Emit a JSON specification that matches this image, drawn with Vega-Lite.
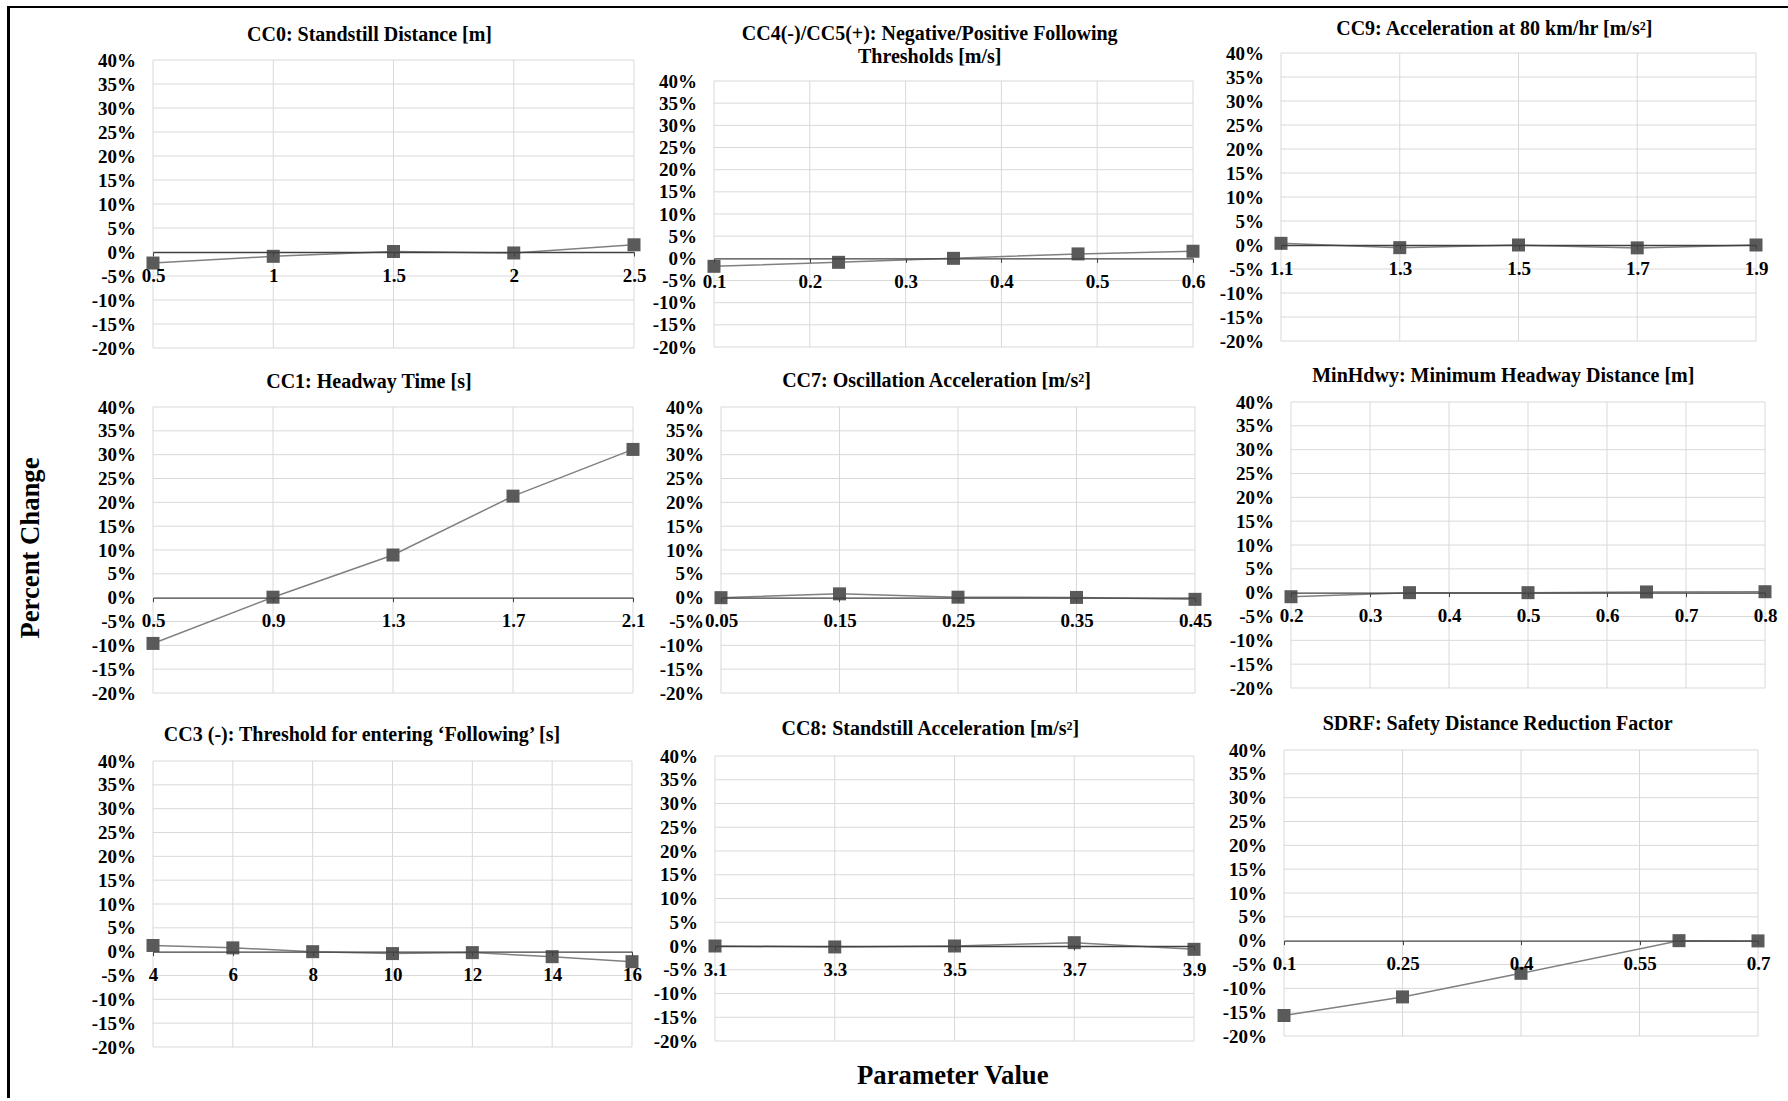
{
  "$schema": "https://vega.github.io/schema/vega-lite/v6.json",
  "padding": {"left": 7, "top": 6, "right": 0, "bottom": 0},
  "background": "#ffffff",
  "config": {
    "view": {"stroke": null},
    "font": "Liberation Serif",
    "axis": {
      "labelFont": "Liberation Serif",
      "labelFontWeight": "bold",
      "labelFontSize": 19,
      "labelColor": "#000000",
      "grid": false,
      "titleFont": "Liberation Serif",
      "titleFontWeight": "bold",
      "titleFontSize": 26.7,
      "titleColor": "#000000",
      "labelOverlap": false
    },
    "axisX": {
      "domainColor": "#404040",
      "domainWidth": 1.3,
      "tickColor": "#404040",
      "tickSize": 4,
      "labelPadding": 25,
      "labelBaseline": "alphabetic",
      "labelFlush": false,
      "labelBound": false,
      "labelAngle": 0,
      "zindex": 1
    },
    "axisY": {
      "domain": false,
      "ticks": false,
      "tickSize": 0,
      "labelPadding": 17.5
    },
    "title": {
      "font": "Liberation Serif",
      "fontSize": 20,
      "fontWeight": "bold",
      "color": "#000000",
      "anchor": "middle",
      "frame": "group",
      "baseline": "bottom"
    },
    "rule": {"color": "#d9d9d9", "strokeWidth": 1},
    "line": {"color": "#808080", "strokeWidth": 1.5},
    "square": {"size": 169, "color": "#5a5a5a", "opacity": 1}
  },
  "datasets": {
    "sens": [
      {"panel": "CC0", "x": 0.5, "y": -2.3},
      {"panel": "CC0", "x": 1, "y": -0.9},
      {"panel": "CC0", "x": 1.5, "y": 0.1},
      {"panel": "CC0", "x": 2, "y": -0.2},
      {"panel": "CC0", "x": 2.5, "y": 1.5},
      {"panel": "CC4", "x": 0.1, "y": -1.8},
      {"panel": "CC4", "x": 0.23, "y": -0.9},
      {"panel": "CC4", "x": 0.35, "y": 0},
      {"panel": "CC4", "x": 0.48, "y": 1.0},
      {"panel": "CC4", "x": 0.6, "y": 1.6},
      {"panel": "CC9", "x": 1.1, "y": 0.35},
      {"panel": "CC9", "x": 1.3, "y": -0.55},
      {"panel": "CC9", "x": 1.5, "y": 0},
      {"panel": "CC9", "x": 1.7, "y": -0.6},
      {"panel": "CC9", "x": 1.9, "y": 0},
      {"panel": "CC1", "x": 0.5, "y": -9.6},
      {"panel": "CC1", "x": 0.9, "y": 0.1},
      {"panel": "CC1", "x": 1.3, "y": 8.95},
      {"panel": "CC1", "x": 1.7, "y": 21.3},
      {"panel": "CC1", "x": 2.1, "y": 31.1},
      {"panel": "CC7", "x": 0.05, "y": 0},
      {"panel": "CC7", "x": 0.15, "y": 0.8},
      {"panel": "CC7", "x": 0.25, "y": 0.1},
      {"panel": "CC7", "x": 0.35, "y": 0.05},
      {"panel": "CC7", "x": 0.45, "y": -0.35},
      {"panel": "MinHdwy", "x": 0.2, "y": -0.85},
      {"panel": "MinHdwy", "x": 0.35, "y": 0},
      {"panel": "MinHdwy", "x": 0.5, "y": 0},
      {"panel": "MinHdwy", "x": 0.65, "y": 0.15},
      {"panel": "MinHdwy", "x": 0.8, "y": 0.2},
      {"panel": "CC3", "x": 4, "y": 1.3},
      {"panel": "CC3", "x": 6, "y": 0.8},
      {"panel": "CC3", "x": 8, "y": 0},
      {"panel": "CC3", "x": 10, "y": -0.4},
      {"panel": "CC3", "x": 12, "y": -0.2},
      {"panel": "CC3", "x": 14, "y": -1.05},
      {"panel": "CC3", "x": 16, "y": -2.1},
      {"panel": "CC8", "x": 3.1, "y": 0},
      {"panel": "CC8", "x": 3.3, "y": -0.2},
      {"panel": "CC8", "x": 3.5, "y": 0},
      {"panel": "CC8", "x": 3.7, "y": 0.7},
      {"panel": "CC8", "x": 3.9, "y": -0.7},
      {"panel": "SDRF", "x": 0.1, "y": -15.7},
      {"panel": "SDRF", "x": 0.25, "y": -11.8},
      {"panel": "SDRF", "x": 0.4, "y": -6.85},
      {"panel": "SDRF", "x": 0.6, "y": 0},
      {"panel": "SDRF", "x": 0.7, "y": -0.05}
    ],
    "pctGrid": [
      {"y": -20}, {"y": -15}, {"y": -10}, {"y": -5}, {"y": 5}, {"y": 10},
      {"y": 15}, {"y": 20}, {"y": 25}, {"y": 30}, {"y": 35}, {"y": 40}
    ]
  },
  "data": {"name": "sens"},
  "bounds": "flush",
  "spacing": 0,
  "vconcat": [
    {
      "width": 1781,
      "height": 2,
      "data": {"values": []},
      "mark": "point",
      "encoding": {},
      "view": {"fill": "#000000", "stroke": null}
    },
    {
      "bounds": "flush",
      "spacing": 143,
      "hconcat": [
        {
          "width": 3,
          "height": 1090,
          "data": {"values": []},
          "mark": "point",
          "encoding": {},
          "view": {"fill": "#000000", "stroke": null}
        },
        {
          "columns": 3,
          "bounds": "flush",
          "align": "each",
          "spacing": {"row": 40, "column": 80},
          "concat": [
            {
              "width": 481, "height": 340,
              "title": {"text": "CC0: Standstill Distance [m]", "offset": -37.2, "dx": -24},
              "resolve": {"axis": {"x": "independent", "y": "independent"}},
              "layer": [
                {"data": {"name": "pctGrid"}, "mark": "rule",
                  "encoding": {
                    "y": {"field": "y", "type": "quantitative", "scale": {"domain": [-20, 40], "range": [340, 52], "nice": false, "zero": false}, "axis": null},
                    "x": {"datum": 0.5, "type": "quantitative", "scale": {"domain": [0.5, 2.5], "range": [0, 481], "nice": false, "zero": false}, "axis": null},
                    "x2": {"datum": 2.5}}},
                {"data": {"values": [{"x": 0.5}, {"x": 1}, {"x": 1.5}, {"x": 2}, {"x": 2.5}]}, "mark": "rule",
                  "encoding": {
                    "x": {"field": "x", "type": "quantitative", "scale": {"domain": [0.5, 2.5], "range": [0, 481], "nice": false, "zero": false}, "axis": null},
                    "y": {"datum": -20, "type": "quantitative", "scale": {"domain": [-20, 40], "range": [340, 52], "nice": false, "zero": false}, "axis": null},
                    "y2": {"datum": 40}}},
                {
                  "transform": [{"filter": "datum.panel === 'CC0'"}],
                  "encoding": {
                    "x": {"field": "x", "type": "quantitative",
                      "scale": {"domain": [0.5, 2.5], "range": [0, 481], "nice": false, "zero": false},
                      "axis": {"orient": "bottom", "zindex": 1, "title": null, "values": [0.5, 1, 1.5, 2, 2.5], "offset": -96, "labelExpr": "datum.value + ''"}},
                    "y": {"field": "y", "type": "quantitative",
                      "scale": {"domain": [-20, 40], "range": [340, 52], "nice": false, "zero": false},
                      "axis": {"orient": "left", "title": null, "values": [-20, -15, -10, -5, 0, 5, 10, 15, 20, 25, 30, 35, 40], "labelExpr": "datum.value + '%'"}}
                  },
                  "layer": [{"mark": "line"}, {"mark": "square"}]
                }
              ]
            },
            {
              "width": 487, "height": 340,
              "title": {"text": ["CC4(-)/CC5(+): Negative/Positive Following", "Thresholds [m/s]"], "lineHeight": 23.3, "offset": -59.5, "dx": -27.8},
              "resolve": {"axis": {"x": "independent", "y": "independent"}},
              "layer": [
                {"data": {"name": "pctGrid"}, "mark": "rule",
                  "encoding": {
                    "y": {"field": "y", "type": "quantitative", "scale": {"domain": [-20, 40], "range": [339, 73], "nice": false, "zero": false}, "axis": null},
                    "x": {"datum": 0.1, "type": "quantitative", "scale": {"domain": [0.1, 0.6], "range": [0, 479], "nice": false, "zero": false}, "axis": null},
                    "x2": {"datum": 0.6}}},
                {"data": {"values": [{"x": 0.1}, {"x": 0.2}, {"x": 0.3}, {"x": 0.4}, {"x": 0.5}, {"x": 0.6}]}, "mark": "rule",
                  "encoding": {
                    "x": {"field": "x", "type": "quantitative", "scale": {"domain": [0.1, 0.6], "range": [0, 479], "nice": false, "zero": false}, "axis": null},
                    "y": {"datum": -20, "type": "quantitative", "scale": {"domain": [-20, 40], "range": [339, 73], "nice": false, "zero": false}, "axis": null},
                    "y2": {"datum": 40}}},
                {
                  "transform": [{"filter": "datum.panel === 'CC4'"}],
                  "encoding": {
                    "x": {"field": "x", "type": "quantitative",
                      "scale": {"domain": [0.1, 0.6], "range": [0, 479], "nice": false, "zero": false},
                      "axis": {"orient": "bottom", "zindex": 1, "title": null, "values": [0.1, 0.2, 0.3, 0.4, 0.5, 0.6], "offset": -89.67, "labelExpr": "datum.value + ''"}},
                    "y": {"field": "y", "type": "quantitative",
                      "scale": {"domain": [-20, 40], "range": [339, 73], "nice": false, "zero": false},
                      "axis": {"orient": "left", "title": null, "values": [-20, -15, -10, -5, 0, 5, 10, 15, 20, 25, 30, 35, 40], "labelExpr": "datum.value + '%'"}}
                  },
                  "layer": [{"mark": "line"}, {"mark": "square"}]
                }
              ]
            },
            {
              "width": 484, "height": 340,
              "title": {"text": "CC9: Acceleration at 80 km/hr [m/s²]", "offset": -30.7, "dx": -28.7},
              "resolve": {"axis": {"x": "independent", "y": "independent"}},
              "layer": [
                {"data": {"name": "pctGrid"}, "mark": "rule",
                  "encoding": {
                    "y": {"field": "y", "type": "quantitative", "scale": {"domain": [-20, 40], "range": [333, 45], "nice": false, "zero": false}, "axis": null},
                    "x": {"datum": 1.1, "type": "quantitative", "scale": {"domain": [1.1, 1.9], "range": [0, 475], "nice": false, "zero": false}, "axis": null},
                    "x2": {"datum": 1.9}}},
                {"data": {"values": [{"x": 1.1}, {"x": 1.3}, {"x": 1.5}, {"x": 1.7}, {"x": 1.9}]}, "mark": "rule",
                  "encoding": {
                    "x": {"field": "x", "type": "quantitative", "scale": {"domain": [1.1, 1.9], "range": [0, 475], "nice": false, "zero": false}, "axis": null},
                    "y": {"datum": -20, "type": "quantitative", "scale": {"domain": [-20, 40], "range": [333, 45], "nice": false, "zero": false}, "axis": null},
                    "y2": {"datum": 40}}},
                {
                  "transform": [{"filter": "datum.panel === 'CC9'"}],
                  "encoding": {
                    "x": {"field": "x", "type": "quantitative",
                      "scale": {"domain": [1.1, 1.9], "range": [0, 475], "nice": false, "zero": false},
                      "axis": {"orient": "bottom", "zindex": 1, "title": null, "values": [1.1, 1.3, 1.5, 1.7, 1.9], "offset": -103, "labelExpr": "datum.value + ''"}},
                    "y": {"field": "y", "type": "quantitative",
                      "scale": {"domain": [-20, 40], "range": [333, 45], "nice": false, "zero": false},
                      "axis": {"orient": "left", "title": null, "values": [-20, -15, -10, -5, 0, 5, 10, 15, 20, 25, 30, 35, 40], "labelExpr": "datum.value + '%'"}}
                  },
                  "layer": [{"mark": "line"}, {"mark": "square"}]
                }
              ]
            },
            {
              "width": 481, "height": 308,
              "title": {"text": "CC1: Headway Time [s]", "offset": -3.5, "dx": -24.6},
              "resolve": {"axis": {"x": "independent", "y": "independent"}},
              "layer": [
                {"data": {"name": "pctGrid"}, "mark": "rule",
                  "encoding": {
                    "y": {"field": "y", "type": "quantitative", "scale": {"domain": [-20, 40], "range": [305, 19], "nice": false, "zero": false}, "axis": null},
                    "x": {"datum": 0.5, "type": "quantitative", "scale": {"domain": [0.5, 2.1], "range": [0, 480], "nice": false, "zero": false}, "axis": null},
                    "x2": {"datum": 2.1}}},
                {"data": {"values": [{"x": 0.5}, {"x": 0.9}, {"x": 1.3}, {"x": 1.7}, {"x": 2.1}]}, "mark": "rule",
                  "encoding": {
                    "x": {"field": "x", "type": "quantitative", "scale": {"domain": [0.5, 2.1], "range": [0, 480], "nice": false, "zero": false}, "axis": null},
                    "y": {"datum": -20, "type": "quantitative", "scale": {"domain": [-20, 40], "range": [305, 19], "nice": false, "zero": false}, "axis": null},
                    "y2": {"datum": 40}}},
                {
                  "transform": [{"filter": "datum.panel === 'CC1'"}],
                  "encoding": {
                    "x": {"field": "x", "type": "quantitative",
                      "scale": {"domain": [0.5, 2.1], "range": [0, 480], "nice": false, "zero": false},
                      "axis": {"orient": "bottom", "zindex": 1, "title": null, "values": [0.5, 0.9, 1.3, 1.7, 2.1], "offset": -98.33, "labelExpr": "datum.value + ''"}},
                    "y": {"field": "y", "type": "quantitative",
                      "scale": {"domain": [-20, 40], "range": [305, 19], "nice": false, "zero": false},
                      "axis": {"orient": "left", "title": "Percent Change", "titleAngle": 270, "titleX": -115, "titleY": 159.5, "titleAlign": "center", "titleBaseline": "alphabetic",
                        "values": [-20, -15, -10, -5, 0, 5, 10, 15, 20, 25, 30, 35, 40], "labelExpr": "datum.value + '%'"}}
                  },
                  "layer": [{"mark": "line"}, {"mark": "square"}]
                }
              ]
            },
            {
              "width": 487, "height": 308,
              "title": {"text": "CC7: Oscillation Acceleration [m/s²]", "offset": -2.9, "dx": -21},
              "resolve": {"axis": {"x": "independent", "y": "independent"}},
              "layer": [
                {"data": {"name": "pctGrid"}, "mark": "rule",
                  "encoding": {
                    "y": {"field": "y", "type": "quantitative", "scale": {"domain": [-20, 40], "range": [305, 19], "nice": false, "zero": false}, "axis": null},
                    "x": {"datum": 0.05, "type": "quantitative", "scale": {"domain": [0.05, 0.45], "range": [7, 481], "nice": false, "zero": false}, "axis": null},
                    "x2": {"datum": 0.45}}},
                {"data": {"values": [{"x": 0.05}, {"x": 0.15}, {"x": 0.25}, {"x": 0.35}, {"x": 0.45}]}, "mark": "rule",
                  "encoding": {
                    "x": {"field": "x", "type": "quantitative", "scale": {"domain": [0.05, 0.45], "range": [7, 481], "nice": false, "zero": false}, "axis": null},
                    "y": {"datum": -20, "type": "quantitative", "scale": {"domain": [-20, 40], "range": [305, 19], "nice": false, "zero": false}, "axis": null},
                    "y2": {"datum": 40}}},
                {
                  "transform": [{"filter": "datum.panel === 'CC7'"}],
                  "encoding": {
                    "x": {"field": "x", "type": "quantitative",
                      "scale": {"domain": [0.05, 0.45], "range": [7, 481], "nice": false, "zero": false},
                      "axis": {"orient": "bottom", "zindex": 1, "title": null, "values": [0.05, 0.15, 0.25, 0.35, 0.45], "offset": -98.33, "labelExpr": "datum.value + ''"}},
                    "y": {"field": "y", "type": "quantitative",
                      "scale": {"domain": [-20, 40], "range": [305, 19], "nice": false, "zero": false},
                      "axis": {"orient": "left", "title": null, "offset": -7, "values": [-20, -15, -10, -5, 0, 5, 10, 15, 20, 25, 30, 35, 40], "labelExpr": "datum.value + '%'"}}
                  },
                  "layer": [{"mark": "line"}, {"mark": "square"}]
                }
              ]
            },
            {
              "width": 484, "height": 308,
              "title": {"text": "MinHdwy: Minimum Headway Distance [m]", "offset": 2.1, "dx": -19.7},
              "resolve": {"axis": {"x": "independent", "y": "independent"}},
              "layer": [
                {"data": {"name": "pctGrid"}, "mark": "rule",
                  "encoding": {
                    "y": {"field": "y", "type": "quantitative", "scale": {"domain": [-20, 40], "range": [300, 14], "nice": false, "zero": false}, "axis": null},
                    "x": {"datum": 0.2, "type": "quantitative", "scale": {"domain": [0.2, 0.8], "range": [10, 484], "nice": false, "zero": false}, "axis": null},
                    "x2": {"datum": 0.8}}},
                {"data": {"values": [{"x": 0.2}, {"x": 0.3}, {"x": 0.4}, {"x": 0.5}, {"x": 0.6}, {"x": 0.7}, {"x": 0.8}]}, "mark": "rule",
                  "encoding": {
                    "x": {"field": "x", "type": "quantitative", "scale": {"domain": [0.2, 0.8], "range": [10, 484], "nice": false, "zero": false}, "axis": null},
                    "y": {"datum": -20, "type": "quantitative", "scale": {"domain": [-20, 40], "range": [300, 14], "nice": false, "zero": false}, "axis": null},
                    "y2": {"datum": 40}}},
                {
                  "transform": [{"filter": "datum.panel === 'MinHdwy'"}],
                  "encoding": {
                    "x": {"field": "x", "type": "quantitative",
                      "scale": {"domain": [0.2, 0.8], "range": [10, 484], "nice": false, "zero": false},
                      "axis": {"orient": "bottom", "zindex": 1, "title": null, "values": [0.2, 0.3, 0.4, 0.5, 0.6, 0.7, 0.8], "offset": -103.33, "labelExpr": "datum.value + ''"}},
                    "y": {"field": "y", "type": "quantitative",
                      "scale": {"domain": [-20, 40], "range": [300, 14], "nice": false, "zero": false},
                      "axis": {"orient": "left", "title": null, "offset": -10, "values": [-20, -15, -10, -5, 0, 5, 10, 15, 20, 25, 30, 35, 40], "labelExpr": "datum.value + '%'"}}
                  },
                  "layer": [{"mark": "line"}, {"mark": "square"}]
                }
              ]
            },
            {
              "width": 481, "height": 311,
              "title": {"text": "CC3 (-): Threshold for entering ‘Following’ [s]", "offset": -8.9, "dx": -31.5},
              "resolve": {"axis": {"x": "independent", "y": "independent"}},
              "layer": [
                {"data": {"name": "pctGrid"}, "mark": "rule",
                  "encoding": {
                    "y": {"field": "y", "type": "quantitative", "scale": {"domain": [-20, 40], "range": [311, 25], "nice": false, "zero": false}, "axis": null},
                    "x": {"datum": 4, "type": "quantitative", "scale": {"domain": [4, 16], "range": [0, 479], "nice": false, "zero": false}, "axis": null},
                    "x2": {"datum": 16}}},
                {"data": {"values": [{"x": 4}, {"x": 6}, {"x": 8}, {"x": 10}, {"x": 12}, {"x": 14}, {"x": 16}]}, "mark": "rule",
                  "encoding": {
                    "x": {"field": "x", "type": "quantitative", "scale": {"domain": [4, 16], "range": [0, 479], "nice": false, "zero": false}, "axis": null},
                    "y": {"datum": -20, "type": "quantitative", "scale": {"domain": [-20, 40], "range": [311, 25], "nice": false, "zero": false}, "axis": null},
                    "y2": {"datum": 40}}},
                {
                  "transform": [{"filter": "datum.panel === 'CC3'"}],
                  "encoding": {
                    "x": {"field": "x", "type": "quantitative",
                      "scale": {"domain": [4, 16], "range": [0, 479], "nice": false, "zero": false},
                      "axis": {"orient": "bottom", "zindex": 1, "title": null, "values": [4, 6, 8, 10, 12, 14, 16], "offset": -95.33, "labelExpr": "datum.value + ''"}},
                    "y": {"field": "y", "type": "quantitative",
                      "scale": {"domain": [-20, 40], "range": [311, 25], "nice": false, "zero": false},
                      "axis": {"orient": "left", "title": null, "values": [-20, -15, -10, -5, 0, 5, 10, 15, 20, 25, 30, 35, 40], "labelExpr": "datum.value + '%'"}}
                  },
                  "layer": [{"mark": "line"}, {"mark": "square"}]
                }
              ]
            },
            {
              "width": 487, "height": 311,
              "title": {"text": "CC8: Standstill Acceleration [m/s²]", "offset": -3.2, "dx": -27.1},
              "resolve": {"axis": {"x": "independent", "y": "independent"}},
              "layer": [
                {"data": {"name": "pctGrid"}, "mark": "rule",
                  "encoding": {
                    "y": {"field": "y", "type": "quantitative", "scale": {"domain": [-20, 40], "range": [305, 20], "nice": false, "zero": false}, "axis": null},
                    "x": {"datum": 3.1, "type": "quantitative", "scale": {"domain": [3.1, 3.9], "range": [1, 480], "nice": false, "zero": false}, "axis": null},
                    "x2": {"datum": 3.9}}},
                {"data": {"values": [{"x": 3.1}, {"x": 3.3}, {"x": 3.5}, {"x": 3.7}, {"x": 3.9}]}, "mark": "rule",
                  "encoding": {
                    "x": {"field": "x", "type": "quantitative", "scale": {"domain": [3.1, 3.9], "range": [1, 480], "nice": false, "zero": false}, "axis": null},
                    "y": {"datum": -20, "type": "quantitative", "scale": {"domain": [-20, 40], "range": [305, 20], "nice": false, "zero": false}, "axis": null},
                    "y2": {"datum": 40}}},
                {
                  "transform": [{"filter": "datum.panel === 'CC8'"}],
                  "encoding": {
                    "x": {"field": "x", "type": "quantitative",
                      "scale": {"domain": [3.1, 3.9], "range": [1, 480], "nice": false, "zero": false},
                      "axis": {"orient": "bottom", "zindex": 1, "title": "Parameter Value", "titleX": 238.3, "titleY": 137, "titleAlign": "center", "titleBaseline": "alphabetic",
                        "values": [3.1, 3.3, 3.5, 3.7, 3.9], "offset": -101, "labelExpr": "datum.value + ''"}},
                    "y": {"field": "y", "type": "quantitative",
                      "scale": {"domain": [-20, 40], "range": [305, 20], "nice": false, "zero": false},
                      "axis": {"orient": "left", "title": null, "offset": -1, "values": [-20, -15, -10, -5, 0, 5, 10, 15, 20, 25, 30, 35, 40], "labelExpr": "datum.value + '%'"}}
                  },
                  "layer": [{"mark": "line"}, {"mark": "square"}]
                }
              ]
            },
            {
              "width": 484, "height": 311,
              "title": {"text": "SDRF: Safety Distance Reduction Factor", "offset": 2.5, "dx": -25.3},
              "resolve": {"axis": {"x": "independent", "y": "independent"}},
              "layer": [
                {"data": {"name": "pctGrid"}, "mark": "rule",
                  "encoding": {
                    "y": {"field": "y", "type": "quantitative", "scale": {"domain": [-20, 40], "range": [300, 14], "nice": false, "zero": false}, "axis": null},
                    "x": {"datum": 0.1, "type": "quantitative", "scale": {"domain": [0.1, 0.7], "range": [3, 477], "nice": false, "zero": false}, "axis": null},
                    "x2": {"datum": 0.7}}},
                {"data": {"values": [{"x": 0.1}, {"x": 0.25}, {"x": 0.4}, {"x": 0.55}, {"x": 0.7}]}, "mark": "rule",
                  "encoding": {
                    "x": {"field": "x", "type": "quantitative", "scale": {"domain": [0.1, 0.7], "range": [3, 477], "nice": false, "zero": false}, "axis": null},
                    "y": {"datum": -20, "type": "quantitative", "scale": {"domain": [-20, 40], "range": [300, 14], "nice": false, "zero": false}, "axis": null},
                    "y2": {"datum": 40}}},
                {
                  "transform": [{"filter": "datum.panel === 'SDRF'"}],
                  "encoding": {
                    "x": {"field": "x", "type": "quantitative",
                      "scale": {"domain": [0.1, 0.7], "range": [3, 477], "nice": false, "zero": false},
                      "axis": {"orient": "bottom", "zindex": 1, "title": null, "values": [0.1, 0.25, 0.4, 0.55, 0.7], "offset": -106.33, "labelExpr": "datum.value + ''"}},
                    "y": {"field": "y", "type": "quantitative",
                      "scale": {"domain": [-20, 40], "range": [300, 14], "nice": false, "zero": false},
                      "axis": {"orient": "left", "title": null, "offset": -3, "values": [-20, -15, -10, -5, 0, 5, 10, 15, 20, 25, 30, 35, 40], "labelExpr": "datum.value + '%'"}}
                  },
                  "layer": [{"mark": "line"}, {"mark": "square"}]
                }
              ]
            }
          ]
        }
      ]
    }
  ]
}
